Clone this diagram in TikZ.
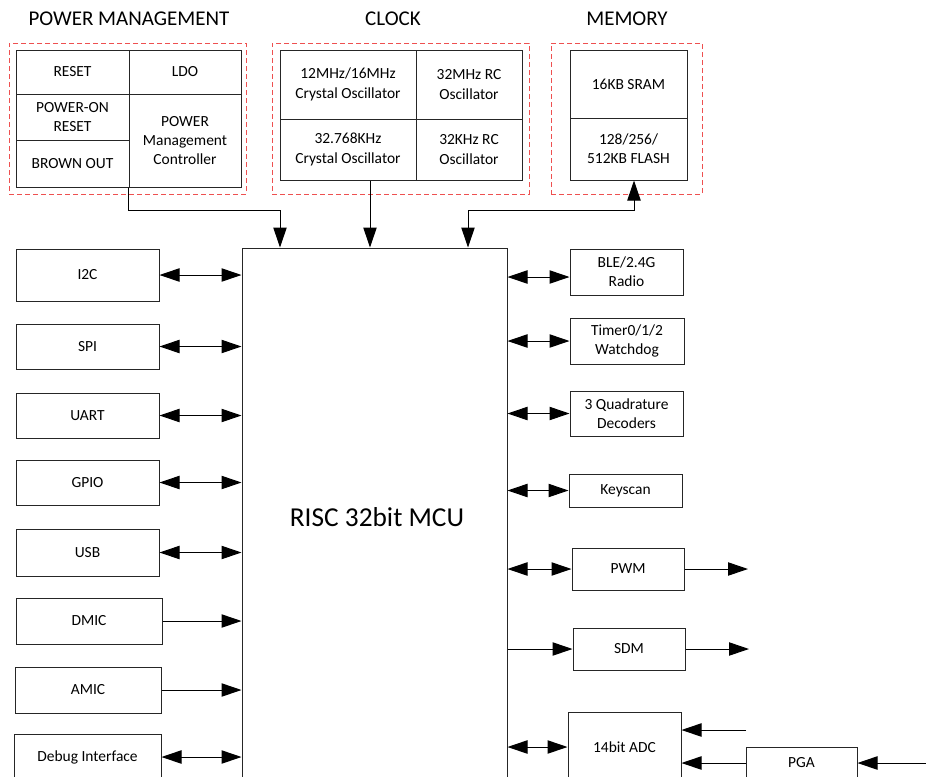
\documentclass[tikz,border=0pt]{standalone}
\usepackage{fontspec}
\setmainfont{Carlito}
\usetikzlibrary{arrows.meta,fit,calc}
\definecolor{dashred}{RGB}{238,80,80}
\begin{document}
\begin{tikzpicture}[x=0.75pt,y=-0.75pt,
  box/.style={draw=black!85, line width=0.75pt, inner sep=0pt},
  lbl/.style={inner sep=0pt, align=center, font=\fontsize{11.6}{14.5}\selectfont},
  grp/.style={draw=dashred, line width=0.75pt, dash pattern=on 3.75pt off 2.25pt, inner sep=0pt},
  ttl/.style={font=\fontsize{15.75}{19}\selectfont, inner sep=0pt},
  arr/.style={line width=0.75pt, -{Triangle[length=15pt,width=10pt]}},
  bi/.style={line width=0.75pt, {Triangle[length=15pt,width=10pt]}-{Triangle[length=15pt,width=10pt]}}
]
\useasboundingbox (0,0) rectangle (926,776);
\clip (0,0) rectangle (926,776);

% titles
\node[ttl] (tpm) at (129,19) {POWER MANAGEMENT};
\node[ttl] (tclk) at (393,19) {CLOCK};
\node[ttl] (tmem) at (627,19) {MEMORY};

% power management
\node[grp, fit={(9,43) (246,194)}] (pmgrp) {};
\node[box, fit={(16,50) (129,94)}, label={[lbl]center:RESET}] (reset) {};
\node[box, fit={(129,50) (241,94)}, label={[lbl]center:LDO}] (ldo) {};
\node[box, fit={(16,94) (129,140)}, label={[lbl]center:POWER-ON\\RESET}] (por) {};
\node[box, fit={(16,140) (129,187)}, label={[lbl]center:BROWN OUT}] (bo) {};
\node[box, fit={(129,94) (241,187)}, label={[lbl]center:POWER\\Management\\Controller}] (pmc) {};

% clock
\node[grp, fit={(272,43) (529,194)}] (clkgrp) {};
\node[box, fit={(280,50) (416,119)}, label={[lbl]center:12MHz/16MHz\\Crystal Oscillator}] (x12) {};
\node[box, fit={(416,50) (522,119)}, label={[lbl]center:32MHz RC\\Oscillator}] (rc32m) {};
\node[box, fit={(280,119) (416,180)}, label={[lbl]center:32.768KHz\\Crystal Oscillator}] (x32k) {};
\node[box, fit={(416,119) (522,180)}, label={[lbl]center:32KHz RC\\Oscillator}] (rc32k) {};

% memory
\node[grp, fit={(551,43) (702,194)}] (memgrp) {};
\node[box, fit={(570,50) (687,118)}, label={[lbl]center:16KB SRAM}] (sram) {};
\node[box, fit={(570,118) (687,180)}, label={[lbl]center:128/256/\\512KB FLASH}] (flash) {};

% MCU
\node[box, fit={(242,248) (507,800)}] (mcu) {};
\node[font=\fontsize{20.5}{24}\selectfont, inner sep=0pt] (mcutxt) at (377,517) {RISC 32bit MCU};

% left peripherals
\node[box, fit={(16,249) (159,301)}, label={[lbl]center:I2C}] (i2c) {};
\node[box, fit={(16,324) (159,369)}, label={[lbl]center:SPI}] (spi) {};
\node[box, fit={(16,393) (159,438)}, label={[lbl]center:UART}] (uart) {};
\node[box, fit={(16,460) (159,505)}, label={[lbl]center:GPIO}] (gpio) {};
\node[box, fit={(16,529) (159,576)}, label={[lbl]center:USB}] (usb) {};
\node[box, fit={(16,598) (162,644)}, label={[lbl]center:DMIC}] (dmic) {};
\node[box, fit={(15,667) (161,713)}, label={[lbl]center:AMIC}] (amic) {};
\node[box, fit={(14,734) (161,780)}, label={[lbl]center:Debug Interface}] (dbg) {};

% right peripherals
\node[box, fit={(570,249) (683,295)}, label={[lbl]center:BLE/2.4G\\Radio}] (ble) {};
\node[box, fit={(570,318) (684,364)}, label={[lbl]center:Timer0/1/2\\Watchdog}] (tmr) {};
\node[box, fit={(570,391) (683,436)}, label={[lbl]center:3 Quadrature\\Decoders}] (qd) {};
\node[box, fit={(569,474) (682,507)}, label={[lbl]center:Keyscan}] (ks) {};
\node[box, fit={(572,548) (684,590)}, label={[lbl]center:PWM}] (pwm) {};
\node[box, fit={(573,628) (685,670)}, label={[lbl]center:SDM}] (sdm) {};
\node[box, fit={(568,712) (681,782)}, label={[lbl]center:14bit ADC}] (adc) {};
\node[box, fit={(746,747) (857,779)}, label={[lbl]center:PGA}] (pga) {};

% top connectors
\coordinate (jPM) at (280,210);
\draw[arr] (pmc.south west) |- (jPM) -- (jPM |- mcu.north);
\coordinate (jCK) at (370,200);
\draw[arr] (jCK |- x32k.south) -- (jCK |- mcu.north);
\coordinate (jM1) at (468,210);
\coordinate (jM2) at (634,210);
\draw[bi] (jM1 |- mcu.north) -- (jM1) -- (jM2) -- (jM2 |- flash.south);

% left connectors
\draw[bi] (i2c.east) -- (i2c.east -| mcu.west);
\draw[bi] (spi.east) -- (spi.east -| mcu.west);
\draw[bi] (uart.east) -- (uart.east -| mcu.west);
\draw[bi] (gpio.east) -- (gpio.east -| mcu.west);
\draw[bi] (usb.east) -- (usb.east -| mcu.west);
\draw[arr] (dmic.east) -- (dmic.east -| mcu.west);
\draw[arr] (amic.east) -- (amic.east -| mcu.west);
\draw[bi] (dbg.east) -- (dbg.east -| mcu.west);

% right connectors
\coordinate (bleA) at ($(ble.west)+(0,5)$);
\draw[bi] (bleA -| mcu.east) -- (bleA);
\draw[bi] (tmr.west -| mcu.east) -- (tmr.west);
\draw[bi] (qd.west -| mcu.east) -- (qd.west);
\draw[bi] (ks.west -| mcu.east) -- (ks.west);
\draw[bi] (pwm.west -| mcu.east) -- (pwm.west);
\draw[arr] (sdm.west -| mcu.east) -- (sdm.west);
\draw[bi] (adc.west -| mcu.east) -- (adc.west);

% outputs / inputs
\coordinate (pwmOut) at (748,569);
\draw[arr] (pwm.east) -- (pwmOut |- pwm.east);
\coordinate (sdmOut) at (749,649);
\draw[arr] (sdm.east) -- (sdmOut |- sdm.east);
\coordinate (adcIn) at (746,730);
\draw[arr] (adcIn) -- (adcIn -| adc.east);
\draw[arr] (pga.west) -- (pga.west -| adc.east);
\coordinate (pgaIn) at (926,763);
\draw[arr] (pgaIn) -- (pga.east);
\end{tikzpicture}
\end{document}
